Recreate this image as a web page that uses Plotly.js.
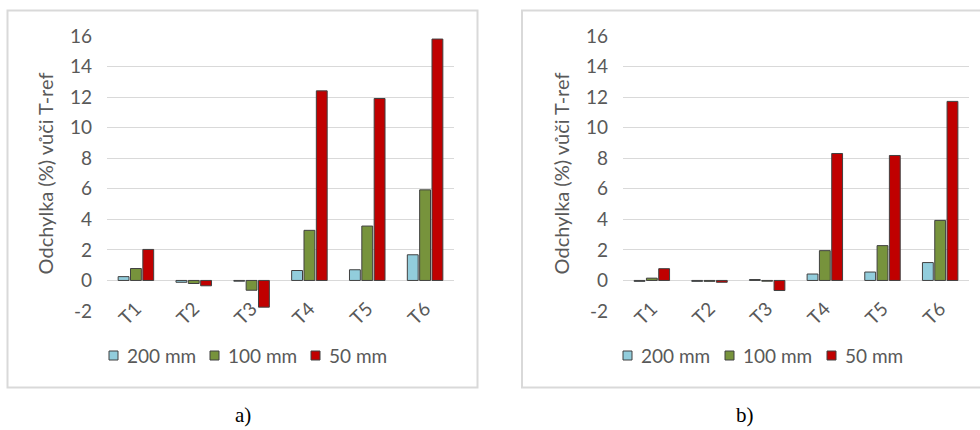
<!DOCTYPE html>
<html>
<head>
<meta charset="utf-8">
<script src="https://cdn.plot.ly/plotly-3.0.1.min.js"></script>
<style>
  html, body { margin: 0; padding: 0; background: #ffffff; }
  #chart { width: 980px; height: 430px; }
</style>
</head>
<body>
<div id="chart"></div>
<script>
// Categories and series
const categories = ['T1', 'T2', 'T3', 'T4', 'T5', 'T6'];
const seriesNames = ['200 mm', '100 mm', '50 mm'];
const yTickValues = [-2, 0, 2, 4, 6, 8, 10, 12, 14, 16];
const panelLabels = ['a)', 'b)'];
const yTitle = 'Odchylka (%) vůči T-ref';

// Panel a)
const a200 = [0.25, -0.12, -0.05, 0.65, 0.70, 1.68];
const a100 = [0.78, -0.20, -0.64, 3.28, 3.56, 5.93];
const a50  = [2.03, -0.35, -1.75, 12.41, 11.91, 15.80];

// Panel b)
const b200 = [-0.06, -0.06, 0.06, 0.42, 0.55, 1.17];
const b100 = [0.15, -0.06, -0.05, 1.95, 2.28, 3.93];
const b50  = [0.77, -0.12, -0.66, 8.31, 8.18, 11.72];

const colors = ['#92CDDC', '#77933C', '#C00000'];
const W = 980, H = 430;
const px = v => v / W;
const py = v => 1 - v / H;
const FONT = 'Lato, "Open Sans", sans-serif';
const GREY = '#595959';
const OUTLINE = '#404040';

function barTrace(name, values, color, xa, ya) {
  return {
    type: 'bar', name: name, x: categories, y: values,
    xaxis: xa, yaxis: ya, showlegend: false,
    marker: { color: color, line: { color: OUTLINE, width: 1 } },
    hoverinfo: 'x+y+name'
  };
}

const data = [
  barTrace(seriesNames[0], a200, colors[0], 'x', 'y'),
  barTrace(seriesNames[1], a100, colors[1], 'x', 'y'),
  barTrace(seriesNames[2], a50,  colors[2], 'x', 'y'),
  barTrace(seriesNames[0], b200, colors[0], 'x2', 'y2'),
  barTrace(seriesNames[1], b100, colors[1], 'x2', 'y2'),
  barTrace(seriesNames[2], b50,  colors[2], 'x2', 'y2')
];

function xAxis(domain, anchor) {
  return {
    domain: domain, anchor: anchor, type: 'category',
    range: [-0.5, categories.length - 0.5],
    showgrid: false, zeroline: false, showline: false, ticks: '',
    tickangle: -45, ticklabelstandoff: -18,
    tickfont: { family: FONT, size: 19, color: GREY }
  };
}
function yAxis(domain, anchor) {
  return {
    domain: domain, anchor: anchor, range: [-2, 16],
    tickvals: yTickValues, ticktext: yTickValues.map(String),
    showgrid: true, gridcolor: '#D9D9D9', gridwidth: 1,
    zeroline: true, zerolinecolor: '#D9D9D9', zerolinewidth: 1,
    showline: false, ticks: '', ticklabelstandoff: 14,
    tickfont: { family: FONT, size: 19, color: GREY },
    title: { text: yTitle, standoff: 10, font: { family: FONT, size: 20, color: GREY } }
  };
}

const yDom = [py(311), py(36)];

// Frames around each panel
const shapes = [
  { type: 'rect', xref: 'paper', yref: 'paper', layer: 'below',
    x0: px(7.5), x1: px(477.5), y0: py(387.5), y1: py(10.5),
    line: { color: '#D9D9D9', width: 2 } },
  { type: 'rect', xref: 'paper', yref: 'paper', layer: 'below',
    x0: px(522), x1: px(990), y0: py(387.5), y1: py(10.5),
    line: { color: '#D9D9D9', width: 2 } }
];

const annotations = [
  { text: panelLabels[0], xref: 'paper', yref: 'paper', x: px(243), y: py(415),
    xanchor: 'center', yanchor: 'middle', showarrow: false,
    font: { family: '"Liberation Serif", "Times New Roman", serif', size: 21, color: '#000000' } },
  { text: panelLabels[1], xref: 'paper', yref: 'paper', x: px(745), y: py(415),
    xanchor: 'center', yanchor: 'middle', showarrow: false,
    font: { family: '"Liberation Serif", "Times New Roman", serif', size: 21, color: '#000000' } }
];

// Legend rows below each panel: square key + series name
function addLegend(startX, step) {
  seriesNames.forEach((name, i) => {
    const x0 = startX + i * step;
    shapes.push({
      type: 'rect', xref: 'paper', yref: 'paper',
      x0: px(x0), x1: px(x0 + 9), y0: py(360), y1: py(351),
      fillcolor: colors[i], line: { color: OUTLINE, width: 1 }
    });
    annotations.push({
      text: name, xref: 'paper', yref: 'paper', x: px(x0 + 16), y: py(355.5),
      xanchor: 'left', yanchor: 'middle', showarrow: false,
      font: { family: FONT, size: 19, color: GREY }
    });
  });
}
addLegend(109, 101);
addLegend(623, 102);

const layout = {
  width: W, height: H,
  margin: { l: 0, r: 0, t: 0, b: 0 },
  paper_bgcolor: '#ffffff', plot_bgcolor: 'rgba(0,0,0,0)',
  font: { family: FONT, color: GREY },
  barmode: 'group', bargap: 0.36, bargroupgap: 0.12,
  showlegend: false,
  xaxis: xAxis([px(107), px(454)], 'y'),
  yaxis: yAxis(yDom, 'x'),
  xaxis2: xAxis([px(623), px(969)], 'y2'),
  yaxis2: yAxis(yDom, 'x2'),
  shapes: shapes,
  annotations: annotations
};

Plotly.newPlot('chart', data, layout, { displayModeBar: false, staticPlot: true });
</script>
</body>
</html>
